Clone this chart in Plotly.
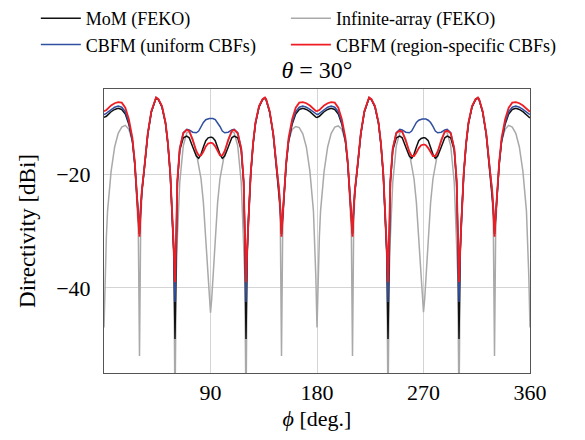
import plotly.graph_objects as go

# azimuth angle phi [deg], four quadrants
phi_q1 = [0, 1, 2, 3, 6, 9, 12, 15, 18, 21, 24, 26, 28, 29, 30, 31, 32, 34, 37, 40, 43, 44, 46, 49, 52, 54, 56, 58, 59, 60,
          61, 62, 64, 67, 70, 72, 75, 78, 80, 82, 84, 86, 88, 89, 90]
phi_q2 = [91, 92, 94, 96, 98, 100, 102, 105, 108, 110, 113, 116, 118, 119, 120, 121, 122, 124, 126, 128, 131, 134, 136, 137,
          140, 143, 146, 148, 149, 150, 151, 152, 154, 156, 159, 162, 165, 168, 171, 174, 177, 178, 179, 180]
phi_q3 = [181, 182, 183, 186, 189, 192, 195, 198, 201, 204, 206, 208, 209, 210, 211, 212, 214, 217, 220, 223, 224, 226, 229,
          232, 234, 236, 238, 239, 240, 241, 242, 244, 247, 250, 252, 255, 258, 260, 262, 264, 266, 268, 269, 270]
phi_q4 = [271, 272, 274, 276, 278, 280, 282, 285, 288, 290, 293, 296, 298, 299, 300, 301, 302, 304, 306, 308, 311, 314, 316,
          317, 320, 323, 326, 328, 329, 330, 331, 332, 334, 336, 339, 342, 345, 348, 351, 354, 357, 358, 359, 360]

# MoM (FEKO)  [dBi]
mom_q1 = [-10.0, -9.95, -9.8, -9.6, -9.0, -8.6, -8.4, -8.6, -9.4, -11.2, -14.2, -18.3, -24.2, -27.5, -30.5, -26.2, -23.0, -19.2,
          -13.0, -9.1, -6.9, -6.6, -6.9, -8.2, -11.1, -14.7, -20.0, -28.0, -34.0, -49.0, -31.0, -21.5, -15.8, -13.6, -13.3,
          -13.6, -15.2, -16.8, -17.2, -16.5, -15.2, -14.1, -13.6, -13.5, -13.5]
mom_q2 = [-13.5, -13.6, -14.1, -15.2, -16.5, -17.2, -16.8, -15.2, -13.6, -13.3, -13.6, -15.8, -21.5, -31.0, -49.0, -34.0, -28.0,
          -20.0, -14.7, -11.1, -8.2, -6.9, -6.6, -6.9, -9.1, -13.0, -19.2, -23.0, -26.2, -30.5, -27.5, -24.2, -18.3, -14.2,
          -11.2, -9.4, -8.6, -8.4, -8.6, -9.0, -9.6, -9.8, -9.95, -10.0]
mom_q3 = [-9.95, -9.8, -9.6, -9.0, -8.6, -8.4, -8.6, -9.4, -11.2, -14.2, -18.3, -24.2, -27.5, -30.5, -26.2, -23.0, -19.2, -13.0,
          -9.1, -6.9, -6.6, -6.9, -8.2, -11.1, -14.7, -20.0, -28.0, -34.0, -49.0, -31.0, -21.5, -15.8, -13.6, -13.3, -13.6,
          -15.2, -16.8, -17.2, -16.5, -15.2, -14.1, -13.7, -13.6, -13.6]
mom_q4 = [-13.6, -13.7, -14.1, -15.2, -16.5, -17.2, -16.8, -15.2, -13.6, -13.3, -13.6, -15.8, -21.5, -31.0, -49.0, -34.0, -28.0,
          -20.0, -14.7, -11.1, -8.2, -6.9, -6.6, -6.9, -9.1, -13.0, -19.2, -23.0, -26.2, -30.5, -27.5, -24.2, -18.3, -14.2,
          -11.2, -9.4, -8.6, -8.4, -8.6, -9.0, -9.6, -9.8, -9.95, -10.1]

# Infinite-array (FEKO)
inf_q1 = [-47.0, -38.0, -31.0, -26.5, -19.5, -15.2, -12.8, -11.7, -11.4, -12.1, -14.2, -17.8, -24.5, -30.0, -52.0, -29.0, -23.5,
          -18.8, -12.9, -9.0, -6.8, -6.5, -6.8, -8.1, -11.0, -14.7, -20.0, -28.5, -35.0, -62.0, -38.0, -31.0, -21.5, -15.0,
          -12.7, -12.5, -13.8, -16.2, -18.3, -20.8, -25.0, -31.5, -38.5, -42.0, -44.4]
inf_q2 = [-42.0, -38.5, -31.5, -25.0, -20.8, -18.3, -16.2, -13.8, -12.5, -12.7, -15.0, -21.5, -31.0, -38.0, -62.0, -35.0, -28.5,
          -20.0, -14.7, -11.0, -8.1, -6.8, -6.5, -6.8, -9.0, -12.9, -18.8, -23.5, -29.0, -52.0, -30.0, -24.5, -17.8, -14.2,
          -12.1, -11.6, -11.8, -12.9, -15.2, -19.5, -26.5, -31.0, -38.0, -47.0]
inf_q3 = [-38.0, -31.0, -26.5, -19.5, -15.2, -12.8, -11.7, -11.5, -12.1, -14.2, -17.8, -24.5, -30.0, -52.0, -29.0, -23.5, -18.8,
          -12.9, -9.0, -6.8, -6.5, -6.8, -8.1, -11.0, -14.7, -20.0, -28.5, -35.0, -62.0, -38.0, -31.0, -21.5, -15.0, -12.7,
          -12.5, -13.8, -16.2, -18.3, -20.8, -25.0, -31.5, -38.5, -42.0, -44.3]
inf_q4 = [-42.0, -38.5, -31.5, -25.0, -20.8, -18.3, -16.2, -13.8, -12.5, -12.7, -15.0, -21.5, -31.0, -38.0, -62.0, -35.0, -28.5,
          -20.0, -14.7, -11.0, -8.1, -6.8, -6.5, -6.8, -9.0, -12.9, -18.8, -23.5, -29.0, -52.0, -30.0, -24.5, -17.8, -14.2,
          -12.1, -11.4, -11.7, -12.8, -15.2, -19.5, -26.5, -31.0, -38.0, -47.0]

# CBFM (uniform CBFs)
uni_q1 = [-9.5, -9.45, -9.3, -9.1, -8.6, -8.2, -8.0, -8.2, -9.0, -10.9, -14.0, -18.0, -24.0, -27.3, -29.5, -26.1, -22.9, -19.1,
          -12.9, -9.0, -6.85, -6.55, -6.85, -8.1, -11.0, -14.6, -19.9, -27.8, -33.5, -42.5, -30.5, -21.3, -15.5, -12.7, -12.1,
          -12.2, -12.6, -12.7, -12.4, -11.6, -10.9, -10.4, -10.2, -10.2, -10.2]
uni_q2 = [-10.2, -10.2, -10.4, -10.9, -11.6, -12.4, -12.7, -12.6, -12.2, -12.1, -12.7, -15.5, -21.3, -30.5, -42.5, -33.5, -27.8,
          -19.9, -14.6, -11.0, -8.1, -6.85, -6.55, -6.85, -9.0, -12.9, -19.1, -22.9, -26.1, -29.5, -27.3, -24.0, -18.0, -14.0,
          -10.9, -9.0, -8.2, -8.0, -8.2, -8.6, -9.1, -9.3, -9.45, -9.5]
uni_q3 = [-9.45, -9.3, -9.1, -8.6, -8.2, -8.0, -8.2, -9.0, -10.9, -14.0, -18.0, -24.0, -27.3, -29.5, -26.1, -22.9, -19.1, -12.9,
          -9.0, -6.85, -6.55, -6.85, -8.1, -11.0, -14.6, -19.9, -27.8, -33.5, -42.5, -30.5, -21.3, -15.5, -12.7, -12.1, -12.2,
          -12.6, -12.7, -12.4, -11.6, -10.9, -10.5, -10.3, -10.3, -10.3]
uni_q4 = [-10.3, -10.3, -10.5, -10.9, -11.6, -12.4, -12.7, -12.6, -12.2, -12.1, -12.7, -15.5, -21.3, -30.5, -42.5, -33.5, -27.8,
          -19.9, -14.6, -11.0, -8.1, -6.85, -6.55, -6.85, -9.0, -12.9, -19.1, -22.9, -26.1, -29.5, -27.3, -24.0, -18.0, -14.0,
          -10.9, -9.0, -8.2, -8.0, -8.2, -8.6, -9.1, -9.3, -9.45, -9.5]

# CBFM (region-specific CBFs)
reg_q1 = [-8.9, -8.85, -8.7, -8.5, -7.9, -7.5, -7.3, -7.4, -8.3, -10.3, -13.6, -17.8, -23.8, -27.2, -31.0, -26.0, -22.8, -19.0,
          -12.8, -8.9, -6.8, -6.5, -6.8, -8.0, -10.9, -14.5, -19.8, -27.5, -33.0, -39.0, -30.0, -21.0, -15.5, -12.8, -12.2,
          -12.4, -14.0, -15.9, -16.7, -16.7, -16.0, -15.1, -14.6, -14.5, -14.5]
reg_q2 = [-14.5, -14.6, -15.1, -16.0, -16.7, -16.7, -15.9, -14.0, -12.4, -12.2, -12.8, -15.5, -21.0, -30.0, -39.0, -33.0, -27.5,
          -19.8, -14.5, -10.9, -8.0, -6.8, -6.5, -6.8, -8.9, -12.8, -19.0, -22.8, -26.0, -31.0, -27.2, -23.8, -17.8, -13.6,
          -10.3, -8.3, -7.4, -7.3, -7.5, -7.9, -8.5, -8.7, -8.85, -8.9]
reg_q3 = [-8.85, -8.7, -8.5, -7.9, -7.5, -7.3, -7.4, -8.3, -10.3, -13.6, -17.8, -23.8, -27.2, -31.0, -26.0, -22.8, -19.0, -12.8,
          -8.9, -6.8, -6.5, -6.8, -8.0, -10.9, -14.5, -19.8, -27.5, -33.0, -39.0, -30.0, -21.0, -15.5, -12.8, -12.3, -12.5,
          -14.1, -16.0, -16.8, -16.8, -16.2, -15.4, -14.9, -14.8, -14.8]
reg_q4 = [-14.8, -14.9, -15.4, -16.2, -16.8, -16.8, -16.0, -14.1, -12.5, -12.3, -12.8, -15.5, -21.0, -30.0, -39.0, -33.0, -27.5,
          -19.8, -14.5, -10.9, -8.0, -6.8, -6.5, -6.8, -8.9, -12.8, -19.0, -22.8, -26.0, -31.0, -27.2, -23.8, -17.8, -13.6,
          -10.3, -8.3, -7.4, -7.3, -7.5, -7.9, -8.5, -8.7, -8.85, -9.0]

x_tick_vals = [90, 180, 270, 360]
x_tick_text = ["90", "180", "270", "360"]
y_tick_vals = [-20, -40]
y_tick_text = ["\u221220", "\u221240"]

phi = phi_q1 + phi_q2 + phi_q3 + phi_q4
# (name, values, colour, width, legend column, rank)
series = [
    ("Infinite-array (FEKO)", inf_q1 + inf_q2 + inf_q3 + inf_q4, "#a9a9a9", 1.5, "legend2", 1),
    ("MoM (FEKO)", mom_q1 + mom_q2 + mom_q3 + mom_q4, "#111111", 1.5, "legend", 1),
    ("CBFM (uniform CBFs)", uni_q1 + uni_q2 + uni_q3 + uni_q4, "#2f4fa0", 1.5, "legend", 2),
    ("CBFM (region-specific CBFs)", reg_q1 + reg_q2 + reg_q3 + reg_q4, "#ee1d24", 1.8, "legend2", 2),
]

FONT = "Liberation Serif"
fig = go.Figure()
for name, vals, col, w, leg, rank in series:
    fig.add_trace(go.Scatter(x=phi, y=vals, mode="lines", name=name, legend=leg, legendrank=rank,
                             line=dict(color=col, width=w)))

axis_common = dict(showgrid=True, gridcolor="#d4d4d4", gridwidth=1, showline=True, mirror=True,
                   linecolor="#555555", linewidth=1, zeroline=False, ticks="",
                   tickfont=dict(family=FONT, size=22, color="black"))
legend_common = dict(orientation="v", xanchor="left", yref="container", y=1.0, yanchor="top",
                     font=dict(family=FONT, size=18, color="black"), itemwidth=40,
                     tracegroupgap=0, bgcolor="rgba(0,0,0,0)")
fig.update_layout(
    width=585, height=440,
    margin=dict(l=104, r=55, t=89, b=67, autoexpand=False),
    paper_bgcolor="white", plot_bgcolor="white",
    font=dict(family=FONT, color="black"),
    title=dict(text="<i>θ</i> = 30°", x=0.5, xref="paper", xanchor="center",
               y=1 - 70 / 440, yref="container", yanchor="middle",
               font=dict(family=FONT, size=24, color="black")),
    xaxis=dict(range=[0, 360], tickvals=x_tick_vals, ticktext=x_tick_text, ticklabelstandoff=0,
               title=dict(text="<i>ϕ</i> [deg.]", font=dict(family=FONT, size=22), standoff=6),
               **axis_common),
    yaxis=dict(range=[-55, -5], tickvals=y_tick_vals, ticktext=y_tick_text, ticklabelstandoff=8,
               title=dict(text="Directivity [dBi]", font=dict(family=FONT, size=23), standoff=14),
               **axis_common),
    legend=dict(x=-0.16, **legend_common),
    legend2=dict(x=0.427, **legend_common),
    showlegend=True,
)
fig.write_html("out.html")
